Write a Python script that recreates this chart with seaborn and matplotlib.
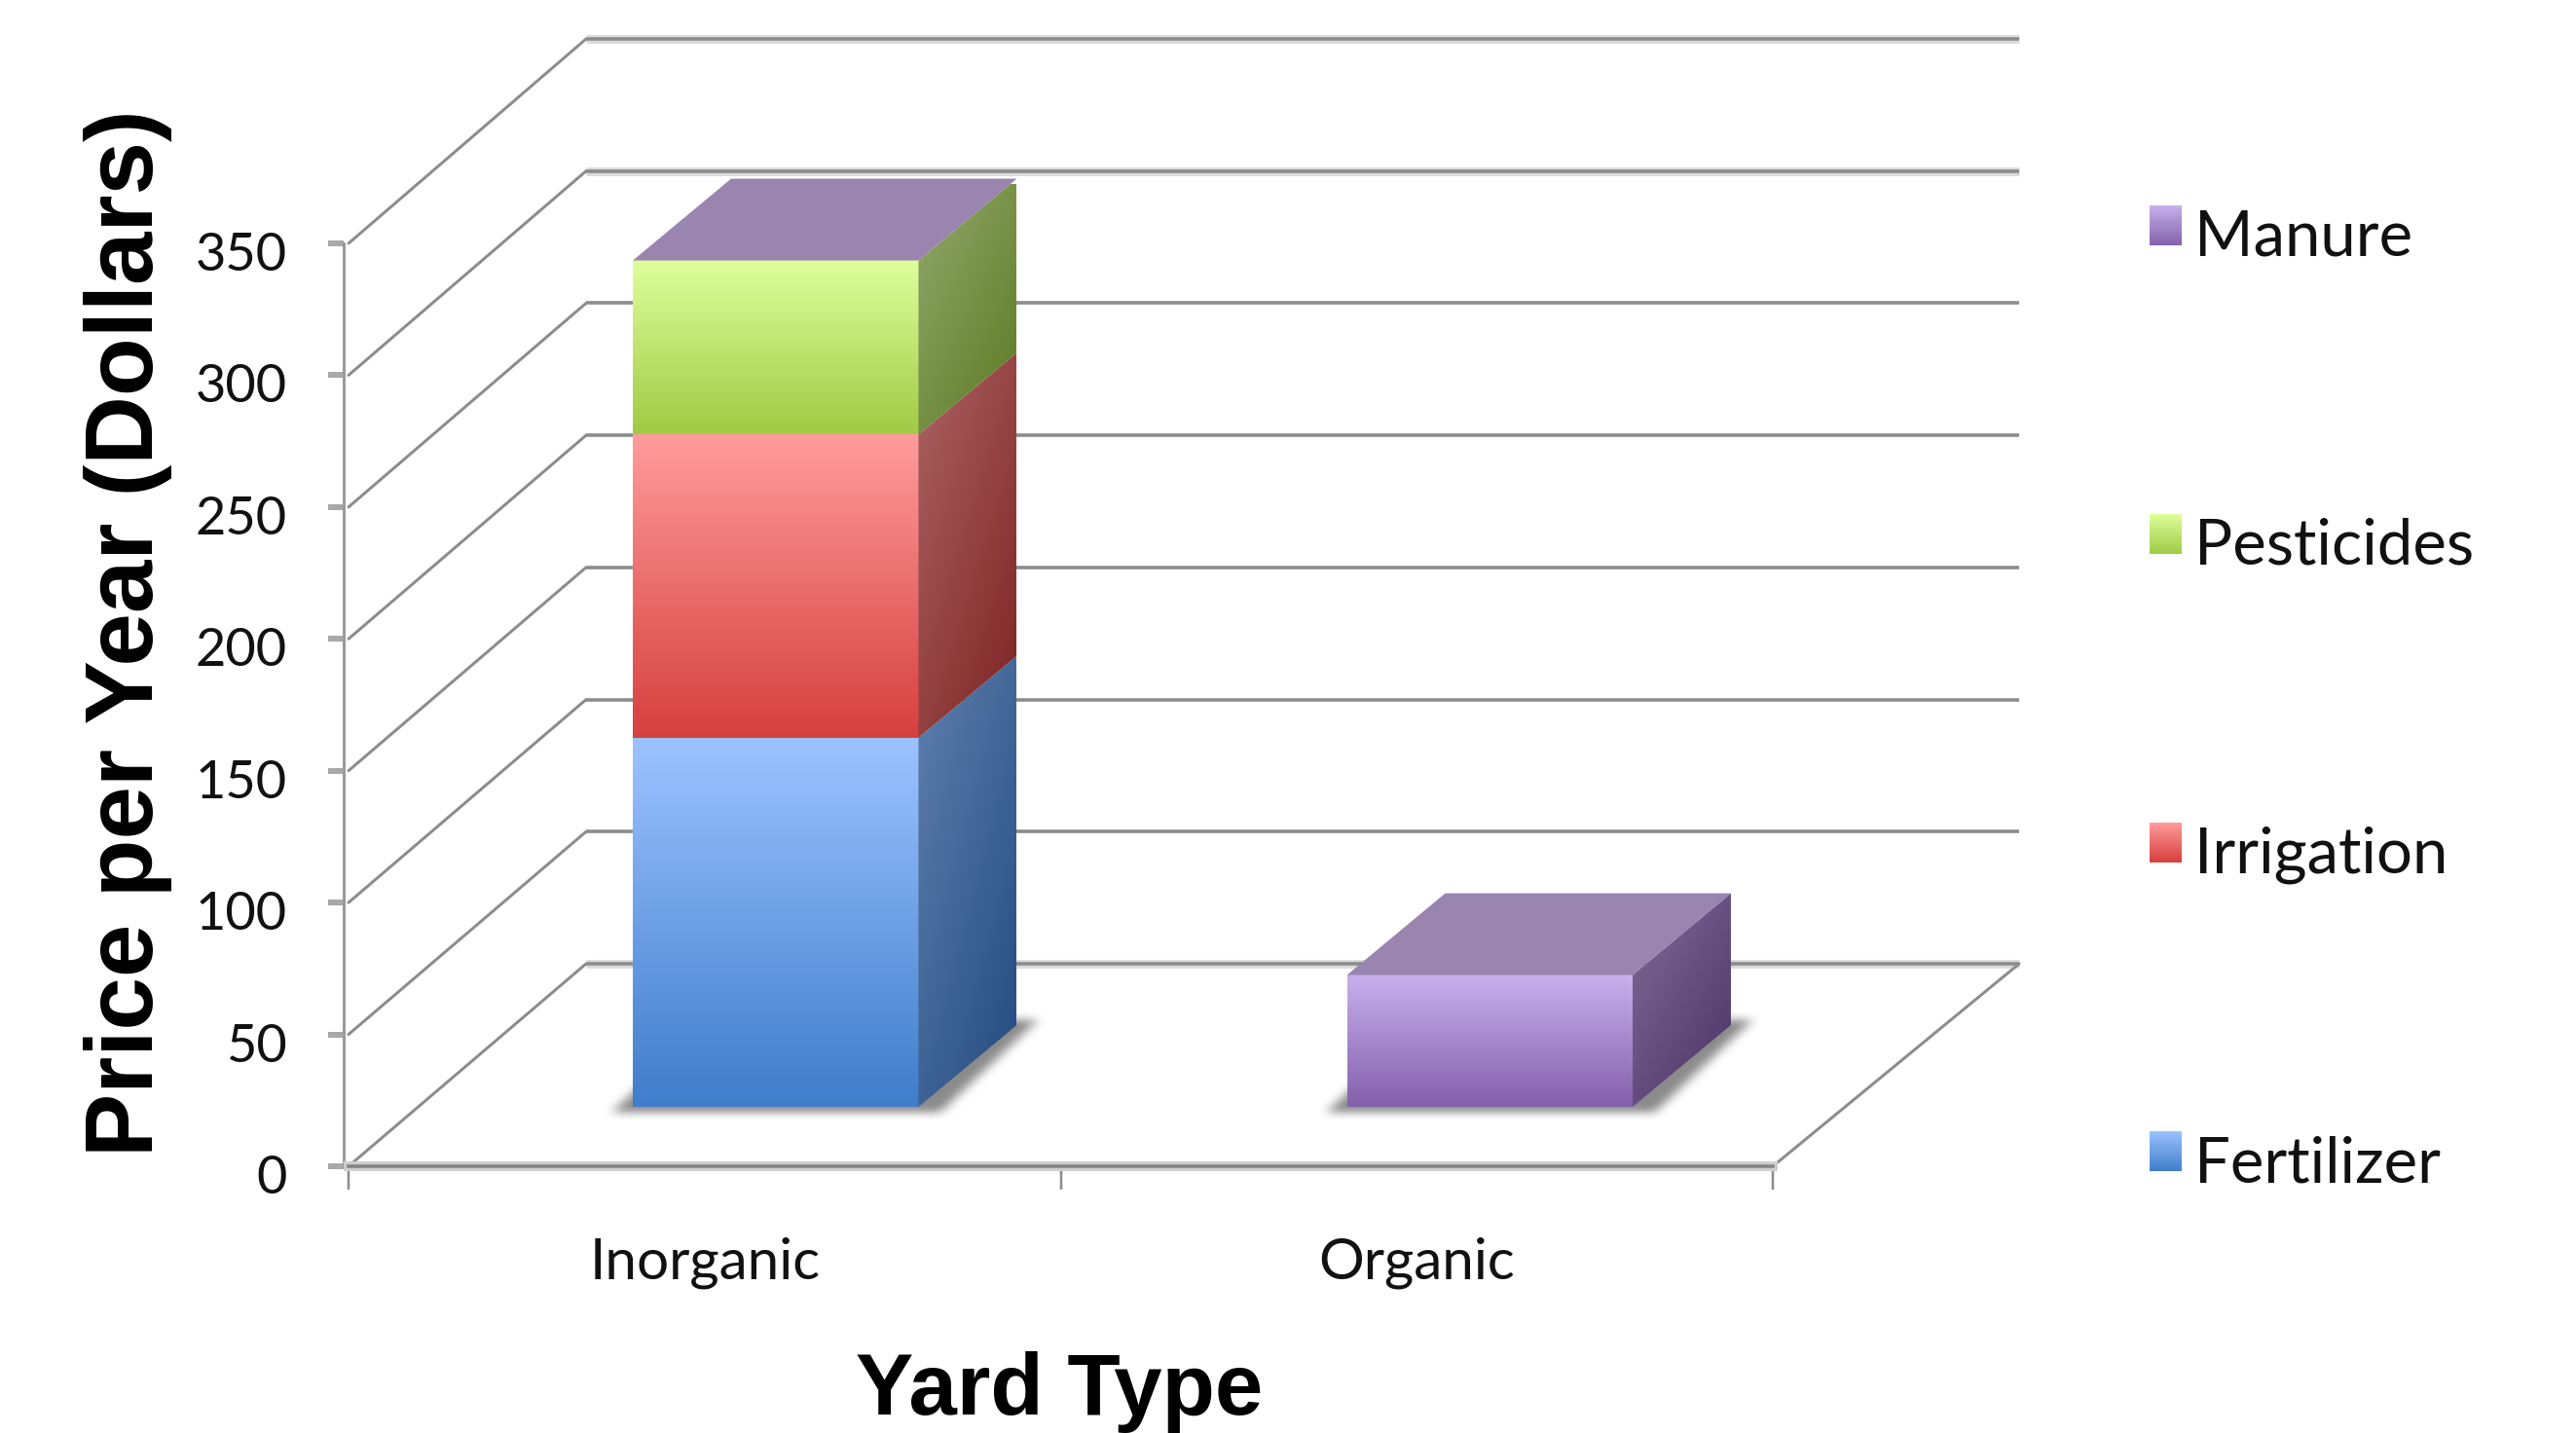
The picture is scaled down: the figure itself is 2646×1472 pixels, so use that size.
import numpy as np
import pandas as pd
import seaborn as sns
import matplotlib
matplotlib.use("Agg")
import matplotlib.pyplot as plt
from matplotlib.colors import LinearSegmentedColormap, to_rgb
from matplotlib.legend_handler import HandlerBase
from matplotlib.lines import Line2D
from matplotlib.patches import Patch, Polygon, Rectangle
from matplotlib.path import Path
from matplotlib.patheffects import withStroke
from matplotlib.transforms import ScaledTranslation

categories = ["Inorganic", "Organic"]
series_names = ["Fertilizer", "Irrigation", "Pesticides", "Manure"]
fertilizer = [140, 0]
irrigation = [115, 0]
pesticides = [66, 0]
manure = [0, 50]
y_ticks = [0, 50, 100, 150, 200, 250, 300, 350]

front_colors = {"Fertilizer": ("#9CC3FF", "#3F7DCB"), "Irrigation": ("#FF9C9C", "#D5403D"),
                "Pesticides": ("#DEFF9C", "#A0CA45"), "Manure": ("#C8B0EE", "#8360AB")}
side_colors = {"Fertilizer": ("#5F80AE", "#234A80"), "Irrigation": ("#AB6363", "#7D2422"),
               "Pesticides": ("#93A96E", "#5B7A22"), "Manure": ("#7F6C97", "#4C3266")}
top_color = "#9985B0"

W, H = 2646, 1472
DPI = 100
PT = 72 / DPI
LEGEND_FS = 47
LEGEND_PX = LEGEND_FS / PT


def rect(x0, y_bottom, x1, y_top):
    return [x0 / W, 1 - y_bottom / H, (x1 - x0) / W, (y_bottom - y_top) / H]


sns.set_theme(style="white")
plt.rcParams["font.family"] = ["Lato", "DejaVu Sans"]
fig = plt.figure(figsize=(W / DPI, H / DPI), dpi=DPI, facecolor="white")

wall_ax = fig.add_axes(rect(602, 990, 2074, 40), zorder=0)
ax = fig.add_axes(rect(358, 1198, 1821, 250), zorder=1)
bar_ax = fig.add_axes(rect(430, 1137, 1897, 189), zorder=2)

LINE = "#8C8C8C"
# back wall
wall_ax.set(xlim=(0, 2), ylim=(0, 350))
wall_ax.set_axis_off()
for v in y_ticks:
    halo = v in (0, 300, 350)
    ln, = wall_ax.plot([0, 2], [v, v], color=LINE, lw=3.6 * PT, solid_capstyle="butt", clip_on=False)
    if halo:
        ln.set_path_effects([withStroke(linewidth=9 * PT, foreground="#DCDCDC")])

# front plane axis
ax.set(xlim=(0, 2), ylim=(0, 350))
ax.patch.set_visible(False)
for s in ("top", "right"):
    ax.spines[s].set_visible(False)
ax.spines["left"].set_position(("outward", 5 * PT))
ax.spines["left"].set_color("#9A9A9A")
ax.spines["left"].set_linewidth(3 * PT)
ax.spines["bottom"].set_color("#858585")
ax.spines["bottom"].set_linewidth(3.6 * PT)
ax.spines["bottom"].set_path_effects([withStroke(linewidth=10 * PT, foreground="#CFCFCF")])
ax.set_yticks(y_ticks)
ax.set_yticklabels([str(v) for v in y_ticks], fontsize=39, color="#111111")
ax.tick_params(axis="y", left=True, length=16 * PT, width=6 * PT, color="#A8A8A8", pad=42 * PT)
for t in ax.get_yticklabels():
    t.set_transform(t.get_transform() + ScaledTranslation(0, -8 / DPI, fig.dpi_scale_trans))
ax.set_xticks([0, 1, 2])
ax.set_xticklabels([])
ax.tick_params(axis="x", which="major", bottom=True, length=24 * PT, width=2.5 * PT, color="#8C8C8C")
ax.set_xticks([0.5, 1.5], minor=True)
ax.set_xticklabels(categories, minor=True, fontsize=42, color="#111111")
ax.tick_params(axis="x", which="minor", bottom=False, length=0, pad=72 * PT)

ax.set_ylabel("Price per Year (Dollars)", fontsize=70.5, fontweight="bold",
              family="Liberation Sans", color="black", va="baseline")
ax.yaxis.set_label_coords(157 / W, 1 - 650 / H, transform=fig.transFigure)
ax.set_xlabel("Yard Type", fontsize=64, fontweight="bold", family="Liberation Sans", color="black", va="baseline")
ax.xaxis.set_label_coords(1088 / W, 1 - 1453 / H, transform=fig.transFigure)

# connecting diagonals from the front plane to the back wall
for v, x in [(v, 0) for v in y_ticks] + [(0, 2)]:
    p0 = ax.transData.transform((x, v))
    p1 = wall_ax.transData.transform((x, v))
    fig.add_artist(Line2D([p0[0], p1[0]], [p0[1], p1[1]], transform=None, color=LINE,
                          lw=3 * PT, zorder=0.5))

# bars
table = pd.DataFrame({"Fertilizer": fertilizer, "Irrigation": irrigation,
                      "Pesticides": pesticides, "Manure": manure}, index=categories)
bottoms = np.zeros(len(categories))
for name in series_names:
    sns.barplot(x=categories, y=table[name].to_numpy(), bottom=bottoms, width=0.4,
                color=front_colors[name][1], saturation=1, errorbar=None, linewidth=0,
                ax=bar_ax, zorder=2)
    bottoms = bottoms + table[name].to_numpy()
bar_ax.set(xlim=(-0.5, 1.5), ylim=(0, 350))
bar_ax.set_axis_off()

px_x = 1467 / 2  # pixels per category
px_y = 948 / 350  # pixels per dollar
DX = 101 / px_x
DY = 84 / px_y


def vcmap(a, b):
    return LinearSegmentedColormap.from_list("g", [a, b])


def front_face(p, colors):
    x, y, w, h = p.get_x(), p.get_y(), p.get_width(), p.get_height()
    grad = np.linspace(0, 1, 256).reshape(-1, 1)
    bar_ax.imshow(grad, cmap=vcmap(*colors), extent=(x, x + w, y, y + h), origin="upper",
                  aspect="auto", zorder=3, clip_on=False, interpolation="bilinear")


def side_face(p, colors):
    x, y, h = p.get_x() + p.get_width(), p.get_y(), p.get_height()
    poly = Polygon([(x, y), (x + DX, y + DY), (x + DX, y + h + DY), (x, y + h)],
                   transform=bar_ax.transData)
    gx, gy = np.meshgrid(np.linspace(0, 1, 128), np.linspace(0, 1, 256))
    grad = np.clip(0.45 * gx + 0.55 * gy, 0, 1)
    im = bar_ax.imshow(grad, cmap=vcmap(*colors), extent=(x, x + DX, y, y + h + DY), origin="upper",
                       aspect="auto", zorder=3, interpolation="bilinear")
    im.set_clip_path(poly)


patches = [p for p in bar_ax.patches]
n_cat = len(categories)
for i, name in enumerate(series_names):
    for p in patches[i * n_cat:(i + 1) * n_cat]:
        if p.get_height() > 0:
            front_face(p, front_colors[name])
            side_face(p, side_colors[name])

shadow_cmap = LinearSegmentedColormap.from_list("s", [(0.3, 0.3, 0.3, 0), (0.3, 0.3, 0.3, 0.65)])
totals = table.sum(axis=1).to_numpy()
for i, total in enumerate(totals):
    left, right = i - 0.2, i + 0.2
    # top face
    bar_ax.add_patch(Polygon([(left, total), (right, total), (right + DX, total + DY), (left + DX, total + DY)],
                             closed=True, facecolor=top_color, edgecolor="none", zorder=3, clip_on=False))
    # blurred floor shadow
    pad_x, pad_y = 22 / px_x, 6 / px_y
    margin_x, margin_y = 40 / px_x, 24 / px_y
    x_grid = np.linspace(left - pad_x - margin_x, right + DX + pad_x + margin_x, 420)
    y_grid = np.linspace(-pad_y - margin_y, DY + pad_y + margin_y, 160)
    gx, gy = np.meshgrid(x_grid, y_grid)
    outline = Path([(left - pad_x, -pad_y), (right + pad_x, -pad_y),
                    (right + DX + pad_x, DY + pad_y), (left + DX - pad_x, DY + pad_y)], closed=False)
    mask = outline.contains_points(np.c_[gx.ravel(), gy.ravel()]).reshape(gx.shape).astype(float)
    kernel = np.ones(11) / 11
    for _ in range(2):
        mask = np.apply_along_axis(lambda r: np.convolve(r, kernel, mode="same"), 0, mask)
        mask = np.apply_along_axis(lambda r: np.convolve(r, kernel, mode="same"), 1, mask)
    bar_ax.imshow(mask, cmap=shadow_cmap, vmin=0, vmax=1, origin="lower",
                  extent=(x_grid[0], x_grid[-1], y_grid[0], y_grid[-1]),
                  aspect="auto", zorder=1, clip_on=False, interpolation="bilinear")
bar_ax.set(xlim=(-0.5, 1.5), ylim=(0, 350))


class GradientHandler(HandlerBase):
    def create_artists(self, legend, orig, xd, yd, width, height, fontsize, trans):
        a, b = [np.array(to_rgb(c)) for c in orig.gradient]
        n = 20
        raise_by = 8 * PT
        out = []
        for k in range(n):
            c = a + (b - a) * (k + 0.5) / n
            out.append(Rectangle((-xd, -yd + raise_by + height * (1 - (k + 1) / n)), width, height / n + 0.3,
                                 facecolor=c, edgecolor="none", transform=trans))
        return out


handles = []
for name in series_names[::-1]:
    h = Patch(label=name)
    h.gradient = front_colors[name]
    handles.append(h)
fig.legend(handles=handles, loc="center left", bbox_to_anchor=(2208 / W, 1 - 720 / H), frameon=False,
           fontsize=LEGEND_FS, labelcolor="#111111", borderpad=0, borderaxespad=0,
           handlelength=33 / LEGEND_PX, handleheight=38 / LEGEND_PX, handletextpad=13 / LEGEND_PX,
           labelspacing=3.95, handler_map={Patch: GradientHandler()})

fig.savefig("out.png", dpi=DPI, facecolor="white")
